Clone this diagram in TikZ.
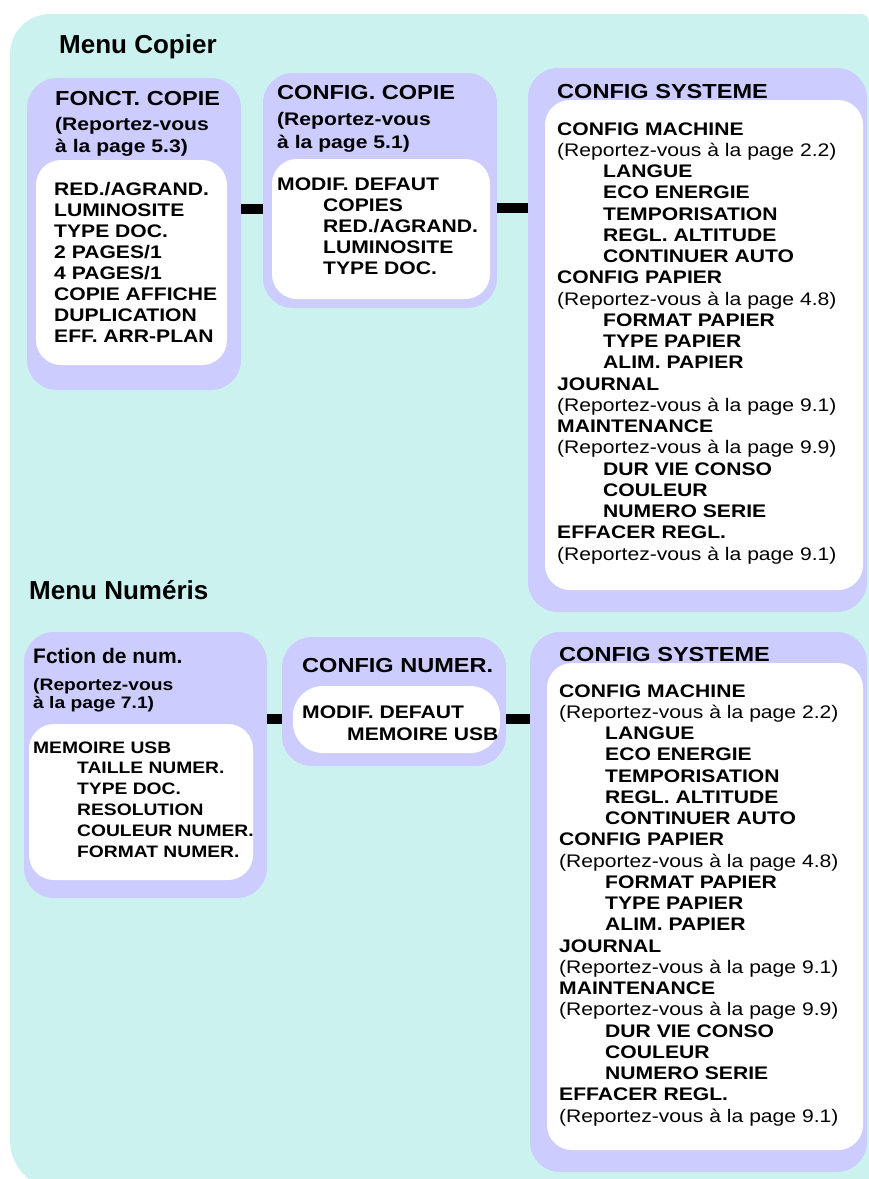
\documentclass[tikz,border=0pt]{standalone}
\usepackage{fontspec}
\setmainfont{Liberation Sans}
\newfontfamily\stretchsans[FakeStretch=1.16]{Liberation Sans}
\newfontfamily\plainsans{Liberation Sans}
\definecolor{bgcyan}{RGB}{204,242,240}
\definecolor{lav}{RGB}{204,204,255}
\tikzset{
  outerbox/.style={fill=lav, rounded corners=30pt, inner sep=0pt, outer sep=0pt, anchor=north west},
  innerbox/.style={fill=white, rounded corners=25pt, inner sep=0pt, outer sep=0pt, anchor=north west},
  bar/.style={line width=10pt, black},
  heading/.style={anchor=base west, inner sep=0pt, font=\plainsans\bfseries\fontsize{26}{30}\selectfont},
  ttl/.style={anchor=base west, inner sep=0pt, font=\stretchsans\bfseries\fontsize{20.3}{24}\selectfont},
  itm/.style={anchor=base west, inner sep=0pt, font=\stretchsans\bfseries\fontsize{18.2}{21}\selectfont},
  sub/.style={itm, xshift=46pt},
  reg/.style={anchor=base west, inner sep=0pt, font=\stretchsans\fontsize{18.2}{21}\selectfont},
  smttl/.style={anchor=base west, inner sep=0pt, font=\plainsans\bfseries\fontsize{21}{24}\selectfont},
  smitm/.style={anchor=base west, inner sep=0pt, font=\stretchsans\bfseries\fontsize{16.6}{20}\selectfont},
}
\newcommand\sysbox[3]{%
  \foreach \kind/\txt [count=\k from 0] in {itm/{CONFIG MACHINE}, reg/{(Reportez-vous à la page 2.2)}, sub/{LANGUE}, sub/{ECO ENERGIE}, sub/{TEMPORISATION}, sub/{REGL. ALTITUDE}, sub/{CONTINUER AUTO}, itm/{CONFIG PAPIER}, reg/{(Reportez-vous à la page 4.8)}, sub/{FORMAT PAPIER}, sub/{TYPE PAPIER}, sub/{ALIM. PAPIER}, itm/{JOURNAL}, reg/{(Reportez-vous à la page 9.1)}, itm/{MAINTENANCE}, reg/{(Reportez-vous à la page 9.9)}, sub/{DUR VIE CONSO}, sub/{COULEUR}, sub/{NUMERO SERIE}, itm/{EFFACER REGL.}, reg/{(Reportez-vous à la page 9.1)}}
  {\node[\kind] (#1l\k) at ({#2},{#3+\k*21.25}) {\txt};}%
}
\begin{document}
\begin{tikzpicture}[x=1pt, y=-1pt]
\useasboundingbox (0,0) rectangle (869,1179);
% background
\fill[bgcyan] (10,54) arc[start angle=180, end angle=270, radius=40] -- (861,14)
  arc[start angle=270, end angle=360, radius=8] -- (869,1190) -- (60,1190)
  arc[start angle=90, end angle=180, radius=50] -- cycle;

% headings
\node[heading] (hcop) at (59,53) {Menu Copier};
\node[heading] (hnum) at (29,599) {Menu Numéris};

% ---------- Menu Copier ----------
\node[outerbox, minimum width=214pt, minimum height=312pt] (b1) at (27,78) {};
\node[innerbox, minimum width=191pt, minimum height=205pt] (w1) at (36,160) {};
\node[outerbox, minimum width=234pt, minimum height=235pt] (b2) at (263,73) {};
\node[innerbox, minimum width=218pt, minimum height=140pt] (w2) at (272,159) {};
\node[outerbox, minimum width=339pt, minimum height=544pt] (b3) at (528,68) {};
\node[innerbox, minimum width=318pt, minimum height=490pt] (w3) at (545,100) {};

\draw[bar] (b1.east |- 0,208.5) -- (b2.west |- 0,208.5);
\draw[bar] (b2.east |- 0,207.5) -- (b3.west |- 0,207.5);

% box 1
\node[ttl] (t1) at (55,105) {FONCT. COPIE};
\node[itm] (s1a) at (55,130) {(Reportez-vous};
\node[itm] (s1b) at (55,152) {à la page 5.3)};
\foreach \txt [count=\k from 0] in {{RED./AGRAND.}, {LUMINOSITE}, {TYPE DOC.}, {2 PAGES/1}, {4 PAGES/1}, {COPIE AFFICHE}, {DUPLICATION}, {EFF. ARR-PLAN}}
  {\node[itm] (i1\k) at (54,{195+\k*21.1}) {\txt};}

% box 2
\node[ttl] (t2) at (277,99) {CONFIG. COPIE};
\node[itm] (s2a) at (277,125) {(Reportez-vous};
\node[itm] (s2b) at (277,148) {à la page 5.1)};
\node[itm] (i2m) at (277,190) {MODIF. DEFAUT};
\foreach \txt [count=\k from 1] in {{COPIES}, {RED./AGRAND.}, {LUMINOSITE}, {TYPE DOC.}}
  {\node[itm] (i2\k) at (323,{190+\k*21.1}) {\txt};}

% box 3
\node[ttl] (t3) at (557,98) {CONFIG SYSTEME};
\sysbox{s3}{557}{135}

% ---------- Menu Numeris ----------
\node[outerbox, minimum width=243pt, minimum height=266pt] (b4) at (24,632) {};
\node[innerbox, minimum width=224pt, minimum height=156pt] (w4) at (29,724) {};
\node[outerbox, minimum width=224pt, minimum height=129pt] (b5) at (282,637) {};
\node[innerbox, rounded corners=30pt, minimum width=207pt, minimum height=67pt] (w5) at (293,686) {};
\node[outerbox, minimum width=337pt, minimum height=540pt] (b6) at (530,632) {};
\node[innerbox, minimum width=316pt, minimum height=487pt] (w6) at (547,663) {};

\draw[bar] (b4.east |- 0,719) -- (b5.west |- 0,719);
\draw[bar] (b5.east |- 0,719) -- (b6.west |- 0,719);

% box 4
\node[smttl] (t4) at (33,663) {Fction de num.};
\node[smitm] (s4a) at (33,690) {(Reportez-vous};
\node[smitm] (s4b) at (33,708) {à la page 7.1)};
\node[smitm] (i4m) at (33,753) {MEMOIRE USB};
\foreach \txt [count=\k from 1] in {{TAILLE NUMER.}, {TYPE DOC.}, {RESOLUTION}, {COULEUR NUMER.}, {FORMAT NUMER.}}
  {\node[smitm] (i4\k) at (77,{753+\k*20.8}) {\txt};}

% box 5
\node[ttl] (t5) at (302,672) {CONFIG NUMER.};
\node[itm] (i5m) at (302,718) {MODIF. DEFAUT};
\node[itm] (i51) at (347,740) {MEMOIRE USB};

% box 6
\node[ttl] (t6) at (559,661) {CONFIG SYSTEME};
\sysbox{s6}{559}{697}
\end{tikzpicture}
\end{document}
